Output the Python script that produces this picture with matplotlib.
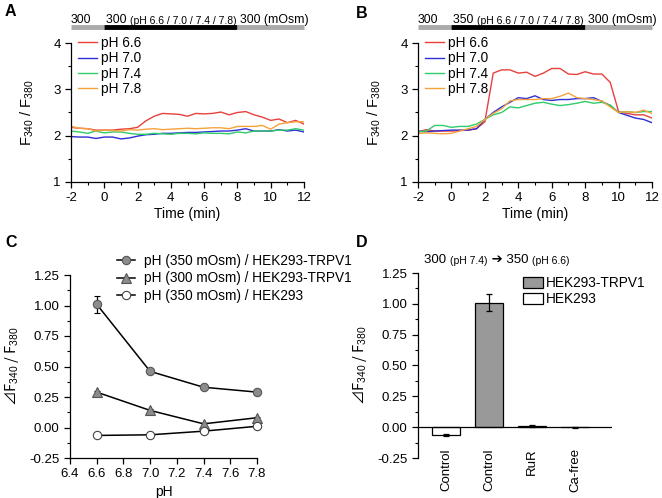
import numpy as np
import matplotlib.pyplot as plt
from matplotlib.patches import Patch
from matplotlib.lines import Line2D

plt.rcParams['font.family'] = ['Liberation Sans', 'Noto Sans CJK JP', 'DejaVu Sans']
plt.rcParams['font.size'] = 9.5
plt.rcParams['axes.linewidth'] = 0.9
plt.rcParams['axes.unicode_minus'] = False
plt.rcParams['mathtext.fontset'] = 'custom'
plt.rcParams['mathtext.rm'] = 'Liberation Sans'
plt.rcParams['mathtext.it'] = 'Liberation Sans:italic'

# ---- data ----
time = np.arange(-2, 12.01, 0.5)
ph_labels = ['pH 6.6', 'pH 7.0', 'pH 7.4', 'pH 7.8']
colors = ['#e8413c', '#2f2fd4', '#2ecc6a', '#f5a23c']

a_66 = [2.18, 2.16, 2.15, 2.12, 2.12, 2.12, 2.14, 2.15, 2.18, 2.32, 2.42, 2.48, 2.47, 2.46, 2.42,
        2.48, 2.47, 2.48, 2.51, 2.45, 2.50, 2.52, 2.45, 2.40, 2.33, 2.36, 2.28, 2.33, 2.25]
a_70 = [1.98, 1.97, 1.97, 1.94, 1.97, 1.97, 1.93, 1.95, 1.99, 2.02, 2.03, 2.05, 2.05, 2.06, 2.07,
        2.07, 2.08, 2.09, 2.10, 2.10, 2.12, 2.15, 2.10, 2.10, 2.10, 2.13, 2.10, 2.12, 2.08]
a_74 = [2.10, 2.08, 2.05, 2.10, 2.06, 2.08, 2.08, 2.05, 2.03, 2.03, 2.05, 2.04, 2.03, 2.05, 2.05,
        2.04, 2.06, 2.05, 2.05, 2.04, 2.08, 2.06, 2.10, 2.10, 2.10, 2.12, 2.12, 2.15, 2.12]
a_78 = [2.20, 2.16, 2.15, 2.10, 2.12, 2.11, 2.10, 2.13, 2.12, 2.14, 2.15, 2.13, 2.14, 2.15, 2.16,
        2.15, 2.16, 2.17, 2.17, 2.15, 2.20, 2.20, 2.20, 2.22, 2.14, 2.25, 2.28, 2.30, 2.30]

b_66 = [2.08, 2.13, 2.10, 2.10, 2.10, 2.11, 2.12, 2.15, 2.30, 3.35, 3.42, 3.42, 3.35, 3.37, 3.28,
        3.35, 3.45, 3.45, 3.33, 3.32, 3.38, 3.33, 3.33, 3.15, 2.52, 2.48, 2.45, 2.45, 2.38]
b_70 = [2.10, 2.08, 2.10, 2.11, 2.12, 2.12, 2.12, 2.15, 2.35, 2.50, 2.62, 2.72, 2.82, 2.80, 2.86,
        2.78, 2.76, 2.78, 2.78, 2.80, 2.80, 2.82, 2.74, 2.65, 2.50, 2.44, 2.38, 2.35, 2.28]
b_74 = [2.08, 2.10, 2.22, 2.22, 2.18, 2.20, 2.20, 2.25, 2.35, 2.45, 2.50, 2.62, 2.60, 2.65, 2.70,
        2.72, 2.68, 2.65, 2.67, 2.70, 2.74, 2.70, 2.72, 2.66, 2.50, 2.52, 2.50, 2.52, 2.52]
b_78 = [2.05, 2.06, 2.05, 2.04, 2.05, 2.10, 2.15, 2.20, 2.35, 2.48, 2.58, 2.75, 2.78, 2.78, 2.78,
        2.80, 2.80, 2.85, 2.92, 2.82, 2.80, 2.78, 2.75, 2.62, 2.50, 2.52, 2.50, 2.55, 2.48]

ph = [6.6, 7.0, 7.4, 7.8]
c_350_trpv1 = [1.01, 0.46, 0.33, 0.29]
c_350_trpv1_err = [0.07, 0.01, 0.01, 0.01]
c_300_trpv1 = [0.29, 0.14, 0.03, 0.08]
c_300_trpv1_err = [0.01, 0.01, 0.01, 0.01]
c_350_hek = [-0.065, -0.06, -0.03, 0.01]
c_350_hek_err = [0.005, 0.005, 0.005, 0.005]

d_labels = ['Control', 'Control', 'RuR', 'Ca-free']
d_values = [-0.06, 1.01, 0.01, 0.0]
d_err = [0.008, 0.07, 0.01, 0.003]
d_colors = ['white', '#999999', '#999999', '#999999']

ylab = r'F$_{340}$ / F$_{380}$'
dylab = '\u22bf' + r'F$_{340}$ / F$_{380}$'
cjk = ['Noto Sans CJK JP', 'DejaVu Sans']

fig = plt.figure(figsize=(6.62, 4.98), dpi=100)
W, H = 662, 498


def px_axes(l, t, r, b):
    return fig.add_axes([l / W, 1 - b / H, (r - l) / W, (b - t) / H])


def fig_pt(x, y):
    return (x / W, 1 - y / H)


def style(ax):
    ax.spines['top'].set_visible(False)
    ax.spines['right'].set_visible(False)
    ax.tick_params(which='major', length=4, width=0.9, direction='out', labelsize=9.5)
    ax.tick_params(which='minor', length=2, width=0.8, direction='out')


def chain_text(ax, x, y, parts):
    # parts: list of (text, size); drawn one after another on a baseline
    t = ax.text(x, y, parts[0][0], fontsize=parts[0][1], va='baseline', ha='left',
                transform=ax.transData, clip_on=False)
    for s, fs in parts[1:]:
        t = ax.annotate(s, xy=(1, 0), xycoords=t, va='bottom', ha='left', fontsize=fs,
                        annotation_clip=False)
    return t


def trace_panel(ax, series, first_mosm, leg_xy):
    for y, c, lab in zip(series, colors, ph_labels):
        ax.plot(time, y, color=c, lw=1.0, label=lab)
    ax.set_xlim(-2, 12)
    ax.set_ylim(1, 4)
    ax.set_xticks(np.arange(-2, 13, 2))
    ax.set_xticks(np.arange(-2, 13, 1), minor=True)
    ax.set_yticks([1, 2, 3, 4])
    ax.set_yticks(np.arange(1, 4.01, 0.5), minor=True)
    ax.set_xlabel('Time (min)', fontsize=10, labelpad=2)
    ax.set_ylabel(ylab, fontsize=10.5, labelpad=12)
    style(ax)
    ax.legend(loc='upper left', bbox_to_anchor=fig_pt(*leg_xy), bbox_transform=fig.transFigure,
              frameon=False, handlelength=1.4, labelspacing=0.1, handletextpad=0.3,
              fontsize=9.8, borderaxespad=0, borderpad=0)
    # solution bar on top
    ybar = 4.35
    ax.plot([-2, 0], [ybar, ybar], color='#aaaaaa', lw=3.5, clip_on=False, solid_capstyle='butt')
    ax.plot([0, 8], [ybar, ybar], color='black', lw=3.5, clip_on=False, solid_capstyle='butt')
    ax.plot([8, 12], [ybar, ybar], color='#aaaaaa', lw=3.5, clip_on=False, solid_capstyle='butt')
    ax.text(-2, ybar + 0.09, '300', fontsize=8.8, va='baseline', ha='left')
    chain_text(ax, 0.1, ybar + 0.09, [(first_mosm + ' ', 8.8), ('(pH 6.6 / 7.0 / 7.4 / 7.8)', 7.5)])
    ax.text(8.15, ybar + 0.09, '300 (mOsm)', fontsize=8.8, va='baseline', ha='left')


axA = px_axes(71, 43, 304, 182)
trace_panel(axA, [a_66, a_70, a_74, a_78], '300', (78, 36))
axB = px_axes(418, 43, 652, 182)
trace_panel(axB, [b_66, b_70, b_74, b_78], '350', (425, 36))

# ---- panel C ----
axC = px_axes(70, 275, 257, 458)
gray = '#8c8c8c'
mstyles = [('o', 6.0, gray, '#555555'), ('^', 6.5, gray, '#555555'), ('o', 6.0, 'white', '#444444')]
c_series = [(c_350_trpv1, c_350_trpv1_err, 'pH (350 mOsm) / HEK293-TRPV1'),
            (c_300_trpv1, c_300_trpv1_err, 'pH (300 mOsm) / HEK293-TRPV1'),
            (c_350_hek, c_350_hek_err, 'pH (350 mOsm) / HEK293')]
for (vals, err, lab), (m, ms, fc, ec) in zip(c_series, mstyles):
    axC.errorbar(ph, vals, yerr=err, color='black', lw=1.1, marker=m, ms=ms,
                 mfc=fc, mec=ec, mew=0.8, capsize=2, elinewidth=0.9, label=lab, clip_on=False)
axC.set_xlim(6.4, 7.8)
axC.set_ylim(-0.25, 1.25)
axC.set_xticks(np.arange(6.4, 7.81, 0.2))
axC.set_xticklabels(['%.1f' % v for v in np.arange(6.4, 7.81, 0.2)])
axC.set_yticks(np.arange(-0.25, 1.26, 0.25))
axC.set_yticklabels(['%.2f' % v for v in np.arange(-0.25, 1.26, 0.25)])
axC.set_yticks(np.arange(-0.25, 1.26, 0.125), minor=True)
axC.set_xlabel('pH', fontsize=10, labelpad=3)
axC.set_ylabel(dylab, fontsize=10.5, labelpad=6, family=cjk)
style(axC)
hC = [Line2D([], [], color='black', lw=1.1, marker=m, ms=ms, mfc=fc, mec=ec, mew=0.8)
      for m, ms, fc, ec in mstyles]
axC.legend(hC, [s[2] for s in c_series], loc='upper left', bbox_to_anchor=fig_pt(117, 254),
           bbox_transform=fig.transFigure, frameon=False, handlelength=1.3,
           labelspacing=0.25, handletextpad=0.7, fontsize=9.8, borderaxespad=0, borderpad=0)

# ---- panel D ----
axD = px_axes(418, 273, 612, 458)
xd = np.arange(len(d_labels))
axD.bar(xd, d_values, width=0.65, color=d_colors, edgecolor='black', linewidth=0.9,
        yerr=d_err, capsize=2.5, error_kw=dict(elinewidth=0.9, capthick=0.9))
axD.axhline(0, color='black', lw=0.9)
axD.set_xlim(-0.65, 3.85)
axD.set_ylim(-0.25, 1.25)
axD.set_yticks(np.arange(-0.25, 1.26, 0.25))
axD.set_yticklabels(['%.2f' % v for v in np.arange(-0.25, 1.26, 0.25)])
axD.set_yticks(np.arange(-0.25, 1.26, 0.125), minor=True)
axD.set_xticks(xd)
axD.set_xticklabels(d_labels, rotation=90)
axD.spines['bottom'].set_visible(False)
style(axD)
axD.tick_params(axis='x', length=0, pad=-7)
axD.set_ylabel(dylab, fontsize=10.5, labelpad=6, family=cjk)
axD.legend(handles=[Patch(facecolor='#999999', edgecolor='black', lw=0.9, label='HEK293-TRPV1'),
                    Patch(facecolor='white', edgecolor='black', lw=0.9, label='HEK293')],
           loc='upper left', bbox_to_anchor=fig_pt(523, 276), bbox_transform=fig.transFigure,
           frameon=False, handlelength=1.5, handleheight=0.9, labelspacing=0.15,
           handletextpad=0.2, fontsize=9.8, borderaxespad=0, borderpad=0)
chain_text(axD, -0.5, 1.33, [('300 ', 9.5), ('(pH 7.4)', 7.5), (' \u2794 350 ', 9.5), ('(pH 6.6)', 7.5)])

# panel letters
for lab, x, y in [('A', 5, 12), ('B', 356, 14), ('C', 5, 242), ('D', 356, 242)]:
    fig.text(x / W, 1 - y / H, lab, fontsize=11.5, fontweight='bold', ha='left', va='center')

fig.savefig('out.png', dpi=100)
